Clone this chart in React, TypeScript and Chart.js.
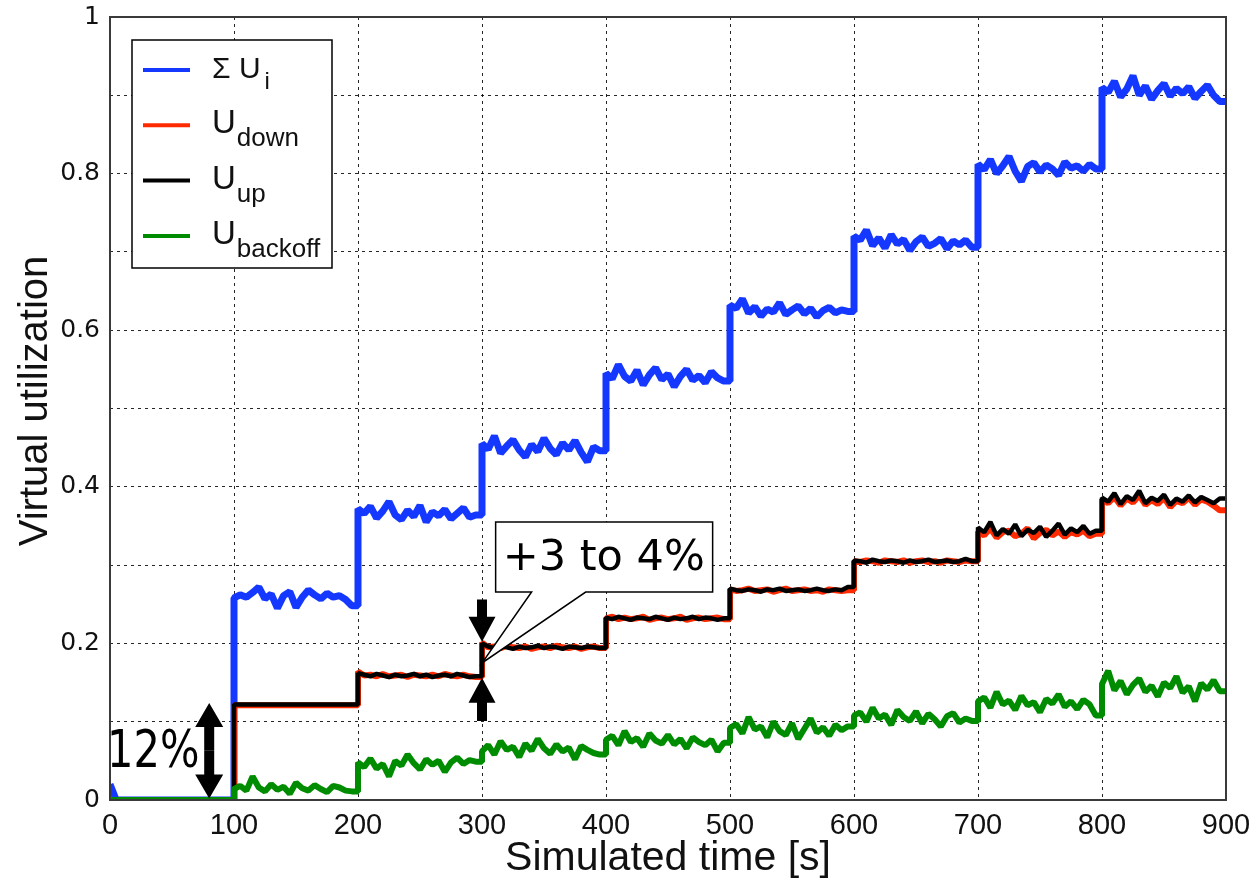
import React, { useEffect, useRef } from 'react';
import { Chart, registerables } from 'chart.js';

Chart.register(...registerables);

// Each trace is sampled every 5 s; the offered load changes every 100 s.
const SAMPLE_STEP = 5;
const SAMPLES_PER_PHASE = 20;

// Σ U_i : sum of the individual virtual utilizations
const sumU = [
  0.02, 0, 0, 0, 0, 0, 0, 0, 0, 0, 0, 0, 0, 0, 0, 0, 0, 0, 0, 0,
  0.258, 0.262, 0.259, 0.265, 0.272, 0.257, 0.263, 0.245, 0.261, 0.266, 0.246, 0.259, 0.268, 0.262, 0.257, 0.264, 0.259, 0.261, 0.256, 0.248,
  0.372, 0.366, 0.375, 0.36, 0.369, 0.381, 0.364, 0.358, 0.37, 0.362, 0.376, 0.355, 0.368, 0.363, 0.371, 0.359, 0.366, 0.373, 0.361, 0.364,
  0.455, 0.448, 0.465, 0.443, 0.452, 0.46, 0.447, 0.438, 0.454, 0.445, 0.462, 0.449, 0.441, 0.456, 0.447, 0.459, 0.444, 0.432, 0.451, 0.446,
  0.545, 0.538, 0.556, 0.541, 0.535, 0.549, 0.53, 0.543, 0.552, 0.537, 0.544, 0.528, 0.541, 0.55, 0.536, 0.542, 0.533, 0.547, 0.539, 0.535,
  0.632, 0.628, 0.64, 0.622, 0.63, 0.618, 0.627, 0.623, 0.635, 0.62, 0.626, 0.631, 0.621, 0.628, 0.617, 0.625, 0.629, 0.622, 0.626, 0.624,
  0.72, 0.715, 0.728, 0.708, 0.718, 0.705, 0.722, 0.71, 0.716, 0.702, 0.713, 0.719, 0.707, 0.711, 0.717, 0.704, 0.714, 0.709, 0.715, 0.706,
  0.812, 0.805, 0.818, 0.8, 0.81, 0.822, 0.803, 0.79, 0.809, 0.814, 0.802, 0.811, 0.806, 0.798, 0.815, 0.807, 0.81, 0.803, 0.812, 0.806,
  0.91, 0.904, 0.918, 0.898, 0.908, 0.925, 0.9, 0.912, 0.895, 0.906, 0.915, 0.899, 0.909, 0.902, 0.911, 0.896, 0.905, 0.913, 0.9, 0.892,
];

// U_down
const uDown = [
  0, 0, 0, 0, 0, 0, 0, 0, 0, 0, 0, 0, 0, 0, 0, 0, 0, 0, 0, 0,
  0.121, 0.121, 0.121, 0.121, 0.121, 0.121, 0.121, 0.121, 0.121, 0.121, 0.121, 0.121, 0.121, 0.121, 0.121, 0.121, 0.121, 0.121, 0.121, 0.121,
  0.164, 0.159, 0.16, 0.158, 0.161, 0.158, 0.159, 0.16, 0.157, 0.16, 0.159, 0.158, 0.16, 0.158, 0.161, 0.159, 0.158, 0.16, 0.158, 0.157,
  0.201, 0.195, 0.196, 0.194, 0.197, 0.195, 0.194, 0.196, 0.193, 0.195, 0.196, 0.194, 0.197, 0.195, 0.194, 0.196, 0.193, 0.195, 0.196, 0.194,
  0.232, 0.234, 0.231, 0.233, 0.231, 0.232, 0.234, 0.23, 0.232, 0.233, 0.231, 0.232, 0.234, 0.23, 0.232, 0.233, 0.231, 0.232, 0.233, 0.231,
  0.269, 0.267, 0.268, 0.27, 0.267, 0.268, 0.269, 0.266, 0.268, 0.27, 0.267, 0.268, 0.269, 0.267, 0.268, 0.266, 0.269, 0.268, 0.267, 0.268,
  0.305, 0.304, 0.306, 0.305, 0.303, 0.306, 0.305, 0.304, 0.306, 0.303, 0.305, 0.306, 0.304, 0.305, 0.303, 0.306, 0.305, 0.304, 0.306, 0.305,
  0.343, 0.338, 0.347, 0.335, 0.342, 0.344, 0.337, 0.34, 0.347, 0.334, 0.341, 0.345, 0.338, 0.343, 0.336, 0.342, 0.339, 0.344, 0.337, 0.34,
  0.384, 0.379, 0.387, 0.376, 0.385, 0.38, 0.389, 0.377, 0.383, 0.378, 0.386, 0.374, 0.382, 0.379, 0.386, 0.377, 0.384, 0.381, 0.376, 0.37,
];

// U_up
const uUp = [
  0, 0, 0, 0, 0, 0, 0, 0, 0, 0, 0, 0, 0, 0, 0, 0, 0, 0, 0, 0,
  0.122, 0.122, 0.122, 0.122, 0.122, 0.122, 0.122, 0.122, 0.122, 0.122, 0.122, 0.122, 0.122, 0.122, 0.122, 0.122, 0.122, 0.122, 0.122, 0.122,
  0.162, 0.16, 0.158, 0.161, 0.159, 0.157, 0.16, 0.158, 0.159, 0.161, 0.158, 0.16, 0.157, 0.159, 0.16, 0.158, 0.161, 0.159, 0.157, 0.158,
  0.2, 0.196, 0.194, 0.197, 0.195, 0.193, 0.196, 0.194, 0.195, 0.197, 0.194, 0.196, 0.195, 0.193, 0.196, 0.195, 0.194, 0.196, 0.195, 0.194,
  0.233, 0.231, 0.234, 0.232, 0.23, 0.233, 0.232, 0.231, 0.234, 0.232, 0.23, 0.233, 0.231, 0.232, 0.234, 0.231, 0.233, 0.232, 0.23, 0.232,
  0.27, 0.268, 0.267, 0.269, 0.268, 0.266, 0.269, 0.268, 0.27, 0.267, 0.268, 0.269, 0.267, 0.268, 0.27, 0.268, 0.267, 0.269, 0.268, 0.272,
  0.306, 0.305, 0.303, 0.307, 0.305, 0.304, 0.306, 0.305, 0.303, 0.306, 0.304, 0.305, 0.307, 0.304, 0.305, 0.306, 0.304, 0.305, 0.308, 0.305,
  0.348, 0.342, 0.355, 0.338, 0.346, 0.34, 0.352, 0.337, 0.345, 0.341, 0.349, 0.336, 0.344, 0.353, 0.339, 0.347, 0.342, 0.35, 0.34, 0.344,
  0.386, 0.381, 0.392, 0.378, 0.388, 0.383, 0.395, 0.379, 0.386, 0.382, 0.39, 0.377, 0.385, 0.381, 0.389, 0.38, 0.387, 0.383, 0.379, 0.385,
];

// U_backoff
const uBackoff = [
  0, 0, 0, 0, 0, 0, 0, 0, 0, 0, 0, 0, 0, 0, 0, 0, 0, 0, 0, 0,
  0.014, 0.018, 0.012, 0.03, 0.016, 0.011, 0.02, 0.013, 0.017, 0.008, 0.022, 0.015, 0.012, 0.019, 0.014, 0.01, 0.018, 0.016, 0.012, 0.011,
  0.048, 0.042, 0.053, 0.04, 0.046, 0.03, 0.05, 0.044, 0.058, 0.047, 0.039, 0.052, 0.045, 0.05, 0.036, 0.048, 0.054, 0.046, 0.051, 0.049,
  0.062, 0.07, 0.058, 0.075, 0.064, 0.068, 0.055, 0.072, 0.063, 0.078, 0.066, 0.059, 0.071, 0.062, 0.067, 0.052, 0.069, 0.064, 0.06, 0.058,
  0.077, 0.082, 0.07, 0.088, 0.074, 0.079, 0.068, 0.085, 0.076, 0.072, 0.083, 0.071, 0.078, 0.066, 0.08, 0.074, 0.07, 0.077, 0.062, 0.073,
  0.092, 0.097, 0.085, 0.106, 0.09, 0.094, 0.08, 0.1, 0.088, 0.083, 0.098, 0.078, 0.091, 0.104, 0.086, 0.093, 0.082, 0.096, 0.089, 0.094,
  0.108, 0.112, 0.1, 0.118, 0.104, 0.109, 0.096, 0.115, 0.106, 0.101, 0.113, 0.098, 0.11, 0.103, 0.094, 0.107, 0.111, 0.099, 0.104, 0.101,
  0.126, 0.131, 0.118, 0.138, 0.122, 0.127, 0.115, 0.133, 0.121, 0.125, 0.112, 0.129, 0.123, 0.135, 0.119, 0.126, 0.116, 0.128, 0.122, 0.108,
  0.148, 0.165, 0.14, 0.152, 0.135, 0.147, 0.155, 0.138, 0.146, 0.132, 0.15, 0.143, 0.158, 0.137, 0.145, 0.126, 0.149, 0.141, 0.153, 0.139,
];

// axis ranges and labelled y ticks
const X_MIN = 0;
const X_MAX = 900;
const X_STEP = 100;
const Y_STEP = 0.1;
const yLabelledTicks = [0, 0.2, 0.4, 0.6, 0.8, 1];

// annotation anchors, in data units
const stepAnnotation = { x: 300, downTail: 0.256, downTip: 0.202, upTail: 0.101, upTip: 0.156, pointerTip: 0.175 };
const calloutBox = { x0: 311, x1: 486, yTop: 0.355, yBottom: 0.2656, baseA: 340, baseB: 383.6 };
const firstStep = { x: 80, low: 0.002, high: 0.124, labelY: 0.042 };

const COLORS = {
  sum: '#1438ff',
  down: '#ff2a00',
  up: '#000000',
  backoff: '#008c00',
};

const legendRows = [
  { main: 'Σ U', sub: 'i', color: COLORS.sum },
  { main: 'U', sub: 'down', color: COLORS.down },
  { main: 'U', sub: 'up', color: COLORS.up },
  { main: 'U', sub: 'backoff', color: COLORS.backoff },
];

// Samples -> points; the last sample of each 100 s phase is held until the
// phase boundary so that load changes appear as vertical steps.
function toPoints(values: number[]) {
  const pts: { x: number; y: number }[] = [];
  values.forEach((v, i) => {
    const t = i * SAMPLE_STEP;
    pts.push({ x: t, y: v });
    if ((i + 1) % SAMPLES_PER_PHASE === 0) pts.push({ x: t + SAMPLE_STEP, y: v });
  });
  return pts;
}

function verticalArrow(ctx: CanvasRenderingContext2D, x: number, yTail: number, yTip: number, shaftW: number, headW: number, headL: number) {
  const dir = Math.sign(yTip - yTail);
  const yBase = yTip - dir * headL;
  ctx.beginPath();
  ctx.moveTo(x - shaftW / 2, yTail);
  ctx.lineTo(x - shaftW / 2, yBase);
  ctx.lineTo(x - headW / 2, yBase);
  ctx.lineTo(x, yTip);
  ctx.lineTo(x + headW / 2, yBase);
  ctx.lineTo(x + shaftW / 2, yBase);
  ctx.lineTo(x + shaftW / 2, yTail);
  ctx.closePath();
  ctx.fill();
}

const figureOverlay = {
  id: 'figureOverlay',
  afterDatasetsDraw(chart: any) {
    const { ctx, chartArea: a } = chart;
    ctx.save();
    ctx.strokeStyle = '#3a3a3a';
    ctx.lineWidth = 2;
    ctx.strokeRect(a.left, a.top, a.right - a.left, a.bottom - a.top);
    ctx.restore();
  },
  afterDraw(chart: any) {
    const { ctx, chartArea: a, scales } = chart;
    const px = (v: number) => scales.x.getPixelForValue(v);
    const py = (v: number) => scales.y.getPixelForValue(v);
    ctx.save();

    // axis titles
    ctx.fillStyle = '#111';
    ctx.font = '41px "Liberation Sans"';
    ctx.textAlign = 'center';
    ctx.textBaseline = 'alphabetic';
    ctx.fillText('Simulated time [s]', (a.left + a.right) / 2, chart.height - 11);
    ctx.save();
    ctx.translate(47, 401);
    ctx.rotate(-Math.PI / 2);
    ctx.font = '40px "Liberation Sans"';
    ctx.fillText('Virtual utilization', 0, 0);
    ctx.restore();

    // legend
    const lx = a.left + 22;
    const ly = a.top + 23;
    const lw = 200;
    const lh = 228;
    ctx.fillStyle = '#ffffff';
    ctx.fillRect(lx, ly, lw, lh);
    ctx.strokeStyle = '#000';
    ctx.lineWidth = 1.5;
    ctx.strokeRect(lx, ly, lw, lh);
    ctx.textAlign = 'left';
    legendRows.forEach((row, i) => {
      const yLine = ly + 30 + i * 55.3;
      ctx.strokeStyle = row.color;
      ctx.lineWidth = 4;
      ctx.beginPath();
      ctx.moveTo(lx + 11, yLine);
      ctx.lineTo(lx + 58, yLine);
      ctx.stroke();
      ctx.fillStyle = '#111';
      const first = i === 0;
      const mainSize = first ? 30 : 33;
      const subSize = first ? 24 : 26;
      const subDrop = first ? 11 : 13;
      const x0 = lx + 80;
      ctx.font = `${mainSize}px "Liberation Sans"`;
      ctx.fillText(row.main, x0, yLine + 8);
      const w = ctx.measureText(row.main).width;
      ctx.font = `${subSize}px "Liberation Sans"`;
      ctx.fillText(row.sub, x0 + w + (first ? 4 : 1), yLine + 8 + subDrop);
    });

    // first step: double arrow and its label
    ctx.fillStyle = '#000';
    const dx = px(firstStep.x);
    const mid = (py(firstStep.low) + py(firstStep.high)) / 2;
    verticalArrow(ctx, dx, mid, py(firstStep.high), 10, 28, 24);
    verticalArrow(ctx, dx, mid, py(firstStep.low), 10, 28, 24);
    ctx.save();
    ctx.translate(a.left - 3, py(firstStep.labelY));
    ctx.scale(0.8, 1);
    ctx.font = '52px "DejaVu Sans"';
    ctx.fillStyle = '#000';
    ctx.fillText('12%', 0, 0);
    ctx.restore();

    // step at 300 s: pair of arrows
    const sx = px(stepAnnotation.x);
    verticalArrow(ctx, sx, py(stepAnnotation.downTail), py(stepAnnotation.downTip), 10, 27, 25);
    verticalArrow(ctx, sx, py(stepAnnotation.upTail), py(stepAnnotation.upTip), 10, 27, 25);

    // callout
    const bx0 = px(calloutBox.x0);
    const bx1 = px(calloutBox.x1);
    const byT = py(calloutBox.yTop);
    const byB = py(calloutBox.yBottom);
    ctx.beginPath();
    ctx.moveTo(bx0, byB);
    ctx.lineTo(px(calloutBox.baseA), byB);
    ctx.lineTo(px(stepAnnotation.x), py(stepAnnotation.pointerTip));
    ctx.lineTo(px(calloutBox.baseB), byB);
    ctx.lineTo(bx1, byB);
    ctx.lineTo(bx1, byT);
    ctx.lineTo(bx0, byT);
    ctx.closePath();
    ctx.fillStyle = '#ffffff';
    ctx.fill();
    ctx.strokeStyle = '#000';
    ctx.lineWidth = 1.5;
    ctx.stroke();
    ctx.fillStyle = '#000';
    ctx.font = '43px "DejaVu Sans"';
    ctx.fillText('+3 to 4%', bx0 + 7, byB - 22);

    ctx.restore();
  },
};

export default function App() {
  const canvasRef = useRef<HTMLCanvasElement | null>(null);

  useEffect(() => {
    const canvas = canvasRef.current;
    if (!canvas) return;

    const traces = [
      { label: 'U_backoff', values: uBackoff, color: COLORS.backoff, width: 6, order: 0 },
      { label: 'U_up', values: uUp, color: COLORS.up, width: 4.5, order: 1 },
      { label: 'U_down', values: uDown, color: COLORS.down, width: 6, order: 2 },
      { label: 'Σ U_i', values: sumU, color: COLORS.sum, width: 7, order: 3 },
    ];

    const chart = new Chart(canvas, {
      type: 'line',
      data: {
        datasets: traces.map((t) => ({
          label: t.label,
          data: toPoints(t.values),
          borderColor: t.color,
          backgroundColor: t.color,
          borderWidth: t.width,
          borderJoinStyle: 'bevel',
          pointRadius: 0,
          tension: 0,
          fill: false,
          order: t.order,
        })),
      },
      options: {
        responsive: false,
        animation: false,
        layout: { padding: { top: 17, right: 29, left: 0, bottom: 0 } },
        plugins: { legend: { display: false }, tooltip: { enabled: false } },
        scales: {
          x: {
            type: 'linear',
            min: X_MIN,
            max: X_MAX,
            ticks: {
              stepSize: X_STEP,
              autoSkip: false,
              maxRotation: 0,
              padding: 9,
              color: '#111',
              font: { family: 'Liberation Sans', size: 29 },
            },
            grid: { color: 'rgba(0,0,0,0.85)', lineWidth: 1, drawTicks: false },
            border: { display: false, dash: [3, 4] },
            afterFit: (s: any) => {
              s.height = 81;
              s.paddingLeft = 0;
              s.paddingRight = 0;
            },
          },
          y: {
            type: 'linear',
            min: 0,
            max: 1,
            ticks: {
              stepSize: Y_STEP,
              autoSkip: false,
              padding: 10,
              color: '#111',
              font: { family: 'DejaVu Sans', size: 25 },
              callback: (v: any) => {
                const n = Number(v);
                return yLabelledTicks.some((t) => Math.abs(t - n) < 1e-6) ? String(Math.round(n * 10) / 10) : '';
              },
            },
            grid: { color: 'rgba(0,0,0,0.85)', lineWidth: 1, drawTicks: false },
            border: { display: false, dash: [3, 4] },
            afterFit: (s: any) => {
              s.width = 110;
              s.paddingTop = 0;
              s.paddingBottom = 0;
            },
          },
        },
      },
      plugins: [figureOverlay],
    } as any);

    return () => chart.destroy();
  }, []);

  return (
    <div style={{ position: 'absolute', left: 0, top: 0, width: 1255, height: 881, background: '#fff' }}>
      <canvas ref={canvasRef} width={1255} height={881} />
    </div>
  );
}
